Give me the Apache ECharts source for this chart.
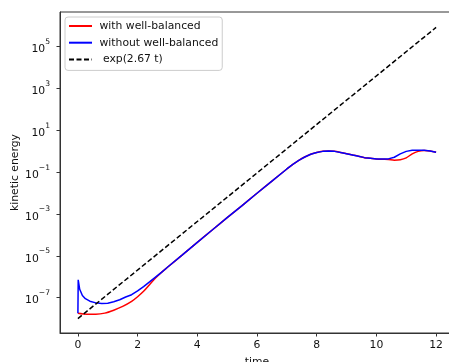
<!DOCTYPE html>
<html>
<head>
<meta charset="utf-8">
<script src="https://cdn.jsdelivr.net/npm/echarts@6/dist/echarts.min.js"></script>
<style>
html,body{margin:0;padding:0;background:#fff;}
#c{width:449px;height:362px;}
</style>
</head>
<body>
<div id="c"></div>
<script>
// ---- data ----
const seriesNames = ['with well-balanced', 'without well-balanced', ' exp(2.67 t)'];

const timeRed = [0, 0.3, 0.6, 0.9, 1.2, 1.5, 1.8, 2.0, 2.2, 2.4, 2.6, 2.8, 3.0, 3.5, 4.0, 4.5, 5.0, 5.5, 6.0, 6.5, 7.0, 7.2, 7.4, 7.6, 7.8, 8.0, 8.2, 8.4, 8.6, 8.8, 9.0, 9.2, 9.4, 9.6, 9.8, 10.0, 10.2, 10.4, 10.6, 10.8, 11.0, 11.2, 11.4, 11.6, 11.8, 12.0];
const keRed = [1.78e-8, 1.62e-8, 1.62e-8, 1.82e-8, 2.51e-8, 3.80e-8, 6.61e-8, 1.10e-7, 2.00e-7, 4.17e-7, 8.71e-7, 1.62e-6, 2.82e-6, 1.10e-5, 4.37e-5, 1.70e-4, 6.61e-4, 2.51e-3, 9.77e-3, 3.72e-2, 0.141, 0.234, 0.363, 0.525, 0.708, 0.871, 0.977, 1.02, 0.977, 0.871, 0.759, 0.661, 0.575, 0.490, 0.457, 0.427, 0.410, 0.398, 0.372, 0.389, 0.479, 0.741, 0.977, 1.07, 1.02, 0.891];

const timeBlue = [0, 0.01, 0.06, 0.15, 0.25, 0.4, 0.6, 0.8, 1.0, 1.2, 1.4, 1.6, 1.8, 2.0, 2.2, 2.4, 2.6, 2.8, 3.0, 3.5, 4.0, 4.5, 5.0, 5.5, 6.0, 6.5, 7.0, 7.2, 7.4, 7.6, 7.8, 8.0, 8.2, 8.4, 8.6, 8.8, 9.0, 9.2, 9.4, 9.6, 9.8, 10.0, 10.2, 10.4, 10.6, 10.8, 11.0, 11.2, 11.4, 11.6, 11.8, 12.0];
const keBlue = [1.78e-8, 7.08e-7, 2.51e-7, 1.26e-7, 8.91e-8, 6.76e-8, 5.62e-8, 5.25e-8, 5.37e-8, 6.31e-8, 7.94e-8, 1.07e-7, 1.38e-7, 2.09e-7, 3.39e-7, 5.62e-7, 9.55e-7, 1.62e-6, 2.82e-6, 1.10e-5, 4.37e-5, 1.70e-4, 6.61e-4, 2.51e-3, 9.77e-3, 3.72e-2, 0.141, 0.234, 0.363, 0.525, 0.708, 0.871, 0.977, 1.02, 0.977, 0.871, 0.759, 0.661, 0.575, 0.490, 0.457, 0.427, 0.417, 0.427, 0.513, 0.741, 0.977, 1.10, 1.12, 1.10, 1.02, 0.891];

const timeExp = [0, 12];
const keExp = [1.0e-8, 8.2e5];

const xTickValues = [0, 2, 4, 6, 8, 10, 12];
const yTickValues = [1e-7, 1e-5, 1e-3, 1e-1, 1e1, 1e3, 1e5];

// ---- chart ----
const FONT = 'DejaVu Sans';
const FS = 10.8;
const TXT = '#111';
function pairs(xs, ys) { return xs.map((x, i) => [x, ys[i]]); }

const chart = echarts.init(document.getElementById('c'), null, {renderer: 'canvas'});
chart.setOption({
  animation: false,
  backgroundColor: '#ffffff',
  textStyle: {fontFamily: FONT},
  grid: {
    left: 60, top: 12, width: 394, height: 321,
    containLabel: false, outerBoundsMode: 'none',
    show: true, borderColor: '#333', borderWidth: 1, backgroundColor: 'transparent'
  },
  legend: {
    orient: 'vertical',
    left: 65, top: 17,
    padding: [2.5, 4, 4.5, 3],
    itemWidth: 23, itemHeight: 10, itemGap: 3.7,
    backgroundColor: 'rgba(255,255,255,0.8)',
    borderColor: '#cccccc', borderWidth: 1, borderRadius: 3,
    itemStyle: {opacity: 0},
    data: seriesNames,
    textStyle: {fontFamily: FONT, fontSize: FS, color: TXT, lineHeight: 13, padding: [0, 0, 0, 2.5]}
  },
  xAxis: {
    type: 'value',
    min: -0.6, max: 12.6,
    name: 'time', nameLocation: 'middle', nameGap: 24, nameMoveOverlap: false,
    nameTextStyle: {fontFamily: FONT, fontSize: FS, color: TXT},
    axisLine: {show: true, onZero: false, lineStyle: {color: '#333', width: 1}},
    axisTick: {show: true, length: 3.5, lineStyle: {color: '#333'}, customValues: xTickValues},
    axisLabel: {fontFamily: FONT, fontSize: FS, color: TXT, margin: 7, customValues: xTickValues},
    splitLine: {show: false}
  },
  yAxis: {
    type: 'log', logBase: 10,
    min: Math.pow(10, -8.69), max: Math.pow(10, 6.65),
    name: 'kinetic energy', nameLocation: 'middle', nameGap: 39.5, nameRotate: 90, nameMoveOverlap: false,
    nameTextStyle: {fontFamily: FONT, fontSize: FS, color: TXT},
    axisLine: {show: true, onZero: false, lineStyle: {color: '#333', width: 1}},
    axisTick: {show: true, length: 3.5, lineStyle: {color: '#333'}, customValues: yTickValues},
    minorTick: {show: false},
    axisLabel: {
      fontFamily: FONT, color: TXT, margin: 10,
      customValues: yTickValues,
      formatter: function (v) {
        const e = Math.round(Math.log10(v));
        const s = e < 0 ? '\u2212' + (-e) : String(e);
        return '{b|10}{s|' + s + '}';
      },
      rich: {
        b: {fontFamily: FONT, fontSize: FS, color: TXT, lineHeight: 17, verticalAlign: 'bottom'},
        s: {fontFamily: FONT, fontSize: 7.6, color: TXT, lineHeight: 8, verticalAlign: 'top'}
      }
    },
    splitLine: {show: false}
  },
  series: [
    {
      name: seriesNames[0], type: 'line', data: pairs(timeRed, keRed),
      showSymbol: false, symbol: 'none', smooth: 0.3,
      lineStyle: {color: '#ff0000', width: 1.5}, itemStyle: {color: '#ff0000'}
    },
    {
      name: seriesNames[1], type: 'line', data: pairs(timeBlue, keBlue),
      showSymbol: false, symbol: 'none', smooth: false,
      lineStyle: {color: '#0000ff', width: 1.5}, itemStyle: {color: '#0000ff'}
    },
    {
      name: seriesNames[2], type: 'line', data: pairs(timeExp, keExp),
      showSymbol: false, symbol: 'none',
      lineStyle: {color: '#000000', width: 1.5, type: [5, 2.5]}, itemStyle: {color: '#000000'}
    }
  ]
});
</script>
</body>
</html>
